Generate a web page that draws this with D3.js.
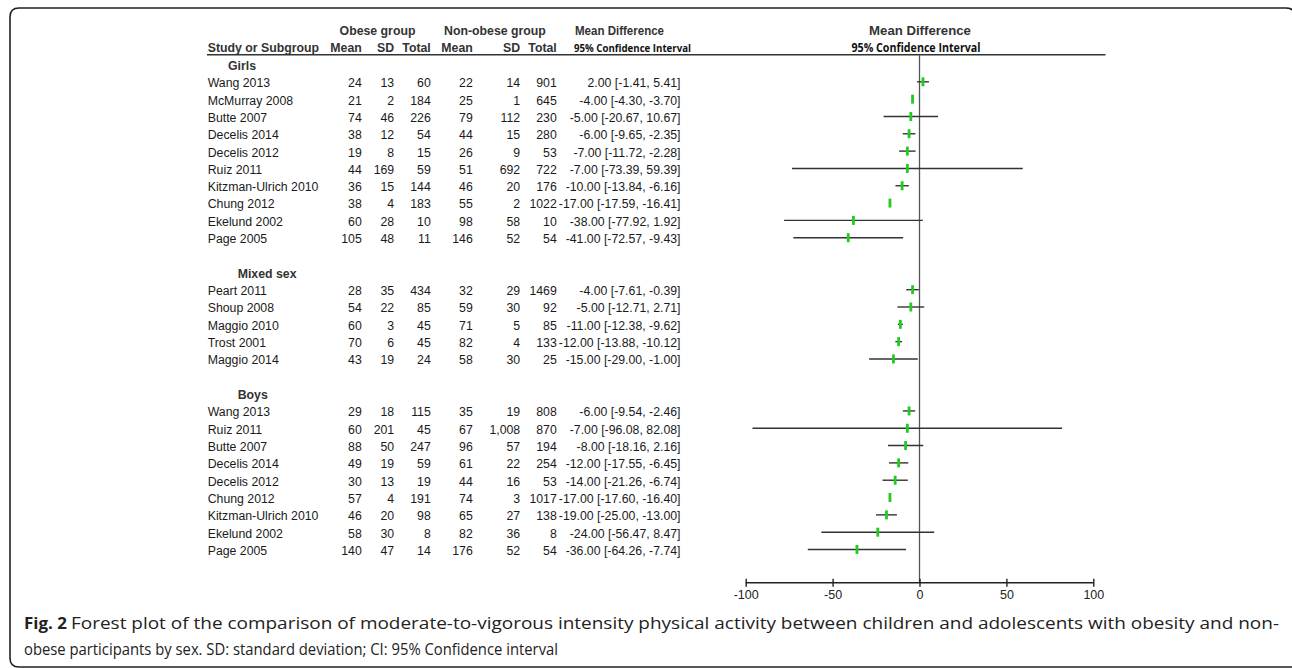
<!DOCTYPE html>
<html>
<head>
<meta charset="utf-8">
<script src="https://cdn.jsdelivr.net/npm/d3@7"></script>
<style>
  html, body { margin: 0; padding: 0; background: #fff; }
  svg { display: block; }
</style>
</head>
<body>
<svg id="chart" width="1292" height="668"></svg>
<script>
// ---------- DATA ----------
const groups = ["Girls", "Mixed sex", "Boys"];

const girlsStudies = ["Wang 2013", "McMurray 2008", "Butte 2007", "Decelis 2014", "Decelis 2012", "Ruiz 2011", "Kitzman-Ulrich 2010", "Chung 2012", "Ekelund 2002", "Page 2005"];
const girlsObeseMean = ["24", "21", "74", "38", "19", "44", "36", "38", "60", "105"];
const girlsObeseSD = ["13", "2", "46", "12", "8", "169", "15", "4", "28", "48"];
const girlsObeseN = ["60", "184", "226", "54", "15", "59", "144", "183", "10", "11"];
const girlsNonMean = ["22", "25", "79", "44", "26", "51", "46", "55", "98", "146"];
const girlsNonSD = ["14", "1", "112", "15", "9", "692", "20", "2", "58", "52"];
const girlsNonN = ["901", "645", "230", "280", "53", "722", "176", "1022", "10", "54"];
const girlsMD = [2.00, -4.00, -5.00, -6.00, -7.00, -7.00, -10.00, -17.00, -38.00, -41.00];
const girlsLo = [-1.41, -4.30, -20.67, -9.65, -11.72, -73.39, -13.84, -17.59, -77.92, -72.57];
const girlsHi = [5.41, -3.70, 10.67, -2.35, -2.28, 59.39, -6.16, -16.41, 1.92, -9.43];

const mixedStudies = ["Peart 2011", "Shoup 2008", "Maggio 2010", "Trost 2001", "Maggio 2014"];
const mixedObeseMean = ["28", "54", "60", "70", "43"];
const mixedObeseSD = ["35", "22", "3", "6", "19"];
const mixedObeseN = ["434", "85", "45", "45", "24"];
const mixedNonMean = ["32", "59", "71", "82", "58"];
const mixedNonSD = ["29", "30", "5", "4", "30"];
const mixedNonN = ["1469", "92", "85", "133", "25"];
const mixedMD = [-4.00, -5.00, -11.00, -12.00, -15.00];
const mixedLo = [-7.61, -12.71, -12.38, -13.88, -29.00];
const mixedHi = [-0.39, 2.71, -9.62, -10.12, -1.00];

const boysStudies = ["Wang 2013", "Ruiz 2011", "Butte 2007", "Decelis 2014", "Decelis 2012", "Chung 2012", "Kitzman-Ulrich 2010", "Ekelund 2002", "Page 2005"];
const boysObeseMean = ["29", "60", "88", "49", "30", "57", "46", "58", "140"];
const boysObeseSD = ["18", "201", "50", "19", "13", "4", "20", "30", "47"];
const boysObeseN = ["115", "45", "247", "59", "19", "191", "98", "8", "14"];
const boysNonMean = ["35", "67", "96", "61", "44", "74", "65", "82", "176"];
const boysNonSD = ["19", "1,008", "57", "22", "16", "3", "27", "36", "52"];
const boysNonN = ["808", "870", "194", "254", "53", "1017", "138", "8", "54"];
const boysMD = [-6.00, -7.00, -8.00, -12.00, -14.00, -17.00, -19.00, -24.00, -36.00];
const boysLo = [-9.54, -96.08, -18.16, -17.55, -21.26, -17.60, -25.00, -56.47, -64.26];
const boysHi = [-2.46, 82.08, 2.16, -6.45, -6.74, -16.40, -13.00, 8.47, -7.74];

const axisTicks = [-100, -50, 0, 50, 100];

const headerTop = ["Obese group", "Non-obese group", "Mean Difference"];
const headerCols = ["Mean", "SD", "Total", "Mean", "SD", "Total"];
const captionBold = "Fig. 2";
const captionLine1 = "Forest plot of the comparison of moderate-to-vigorous intensity physical activity between children and adolescents with obesity and non-";
const captionLine2 = "obese participants by sex. SD: standard deviation; CI: 95% Confidence interval";

// ---------- BUILD ROWS ----------
function buildGroup(name, studies, om, osd, on, nm, nsd, nn, md, lo, hi) {
  const rows = [{ type: "header", label: name }];
  studies.forEach((s, i) => rows.push({
    type: "study", label: s, cells: [om[i], osd[i], on[i], nm[i], nsd[i], nn[i]],
    md: md[i], lo: lo[i], hi: hi[i]
  }));
  return rows;
}
const rows = [];
[
  buildGroup(groups[0], girlsStudies, girlsObeseMean, girlsObeseSD, girlsObeseN, girlsNonMean, girlsNonSD, girlsNonN, girlsMD, girlsLo, girlsHi),
  buildGroup(groups[1], mixedStudies, mixedObeseMean, mixedObeseSD, mixedObeseN, mixedNonMean, mixedNonSD, mixedNonN, mixedMD, mixedLo, mixedHi),
  buildGroup(groups[2], boysStudies, boysObeseMean, boysObeseSD, boysObeseN, boysNonMean, boysNonSD, boysNonN, boysMD, boysLo, boysHi)
].forEach((g, gi) => {
  if (gi > 0) rows.push({ type: "blank" });
  g.forEach(r => rows.push(r));
});
rows.forEach((r, i) => r.idx = i);

// ---------- LAYOUT ----------
const svg = d3.select("#chart");
const fontArial = "Arial, 'Liberation Sans', Helvetica, sans-serif";
const fs = 12.3;
const fmt2 = v => d3.format(".2f")(v).replace("\u2212", "-");

const x = d3.scaleLinear().domain([-100, 100]).range([745.7, 1093.3]);
const y = d3.scaleLinear().domain([0, rows.length - 1]).range([65.5, 550.5]);

const colRight = [361.8, 394.2, 430.8, 472.8, 520.2, 556.8];
const ciRight = 680.5;
const studyX = 207.7;
const headerLineY = 54.8;
const axisY = 582.7;

// frame
svg.append("path")
  .attr("d", "M1300,667 L19,667 Q10,667 10,658 L10,17 Q10,8 19,8 L1286,8 Q1295,8 1295,17 L1295,667")
  .attr("fill", "none").attr("stroke", "#222").attr("stroke-width", 1.6);

// headers
const hdr = svg.append("g").attr("font-family", fontArial).attr("font-weight", "bold")
  .attr("font-size", fs).attr("fill", "#333");
hdr.append("text").attr("x", 377.5).attr("y", 35).attr("text-anchor", "middle").text(headerTop[0]);
hdr.append("text").attr("x", 495).attr("y", 35).attr("text-anchor", "middle").text(headerTop[1]);
hdr.append("text").attr("x", 575).attr("y", 35).attr("textLength", 89).attr("lengthAdjust", "spacingAndGlyphs").text(headerTop[2]);
hdr.append("text").attr("x", 920).attr("y", 35).attr("text-anchor", "middle").attr("font-size", 13.2).text(headerTop[2]);
hdr.append("text").attr("x", studyX).attr("y", 51.8).text("Study or Subgroup");
headerCols.forEach((h, i) => {
  hdr.append("text").attr("x", colRight[i]).attr("y", 51.8).attr("text-anchor", "end").text(h);
});
svg.append("text").attr("x", 574).attr("y", 51.5).attr("font-family", "'Open Sans', sans-serif")
  .attr("font-weight", "bold").attr("font-size", 11.2).attr("fill", "#111")
  .attr("textLength", 117).attr("lengthAdjust", "spacingAndGlyphs").text("95% Confidence Interval");
svg.append("text").attr("x", 851.5).attr("y", 51.5).attr("font-family", "'Open Sans', sans-serif")
  .attr("font-weight", "bold").attr("font-size", 12).attr("fill", "#111")
  .attr("textLength", 129).attr("lengthAdjust", "spacingAndGlyphs").text("95% Confidence Interval");

svg.append("line").attr("x1", 207).attr("x2", 1105.5).attr("y1", headerLineY).attr("y2", headerLineY)
  .attr("stroke", "#333").attr("stroke-width", 1.5);

// table rows
const body = svg.append("g").attr("font-family", fontArial).attr("font-size", fs).attr("fill", "#1a1a1a");
rows.forEach(r => {
  const cy = y(r.idx);
  if (r.type === "header") {
    body.append("text").attr("x", r.label === "Girls" ? 228 : 237.7).attr("y", cy + 4.4)
      .attr("font-weight", "bold").attr("fill", "#333").text(r.label);
  } else if (r.type === "study") {
    body.append("text").attr("x", studyX).attr("y", cy + 4.4).text(r.label);
    r.cells.forEach((c, i) => body.append("text").attr("x", colRight[i]).attr("y", cy + 4.4)
      .attr("text-anchor", "end").text(c));
    body.append("text").attr("x", ciRight).attr("y", cy + 4.4).attr("text-anchor", "end")
      .text(`${fmt2(r.md)} [${fmt2(r.lo)}, ${fmt2(r.hi)}]`);
  }
});

// zero line
svg.append("line").attr("x1", x(0)).attr("x2", x(0)).attr("y1", headerLineY).attr("y2", axisY)
  .attr("stroke", "#555").attr("stroke-width", 1.3);

// forest marks
const studies = rows.filter(r => r.type === "study");
const plot = svg.append("g");
plot.selectAll("line.ci").data(studies).join("line").attr("class", "ci")
  .attr("x1", d => x(d.lo)).attr("x2", d => x(d.hi))
  .attr("y1", d => y(d.idx) - 1).attr("y2", d => y(d.idx) - 1)
  .attr("stroke", "#333").attr("stroke-width", 1.4);
plot.selectAll("rect.pt").data(studies).join("rect").attr("class", "pt")
  .attr("x", d => x(d.md) - 1.4).attr("width", 2.8)
  .attr("y", d => y(d.idx) - 5.5).attr("height", 9)
  .attr("fill", "#1fcc1f");

// axis
const axis = d3.axisBottom(x).tickValues(axisTicks).tickSize(4).tickFormat(d => String(d));
const ag = svg.append("g").attr("transform", `translate(0,${axisY})`).call(axis);
ag.select(".domain").attr("stroke", "#222").attr("stroke-width", 1.4).attr("d", `M${x(-100)},0H${x(100)}`);
ag.selectAll(".tick line").attr("y1", -4).attr("y2", 4).attr("stroke", "#222").attr("stroke-width", 1.4);
ag.selectAll(".tick text").attr("y", 16).attr("dy", null).attr("font-family", fontArial)
  .attr("font-size", 12.5).attr("fill", "#222");

// caption
const cap = svg.append("g").attr("font-family", "'Open Sans', sans-serif").attr("font-size", 16.5).attr("fill", "#222");
cap.append("text").attr("x", 24).attr("y", 629).attr("font-weight", "bold")
  .attr("textLength", 43).attr("lengthAdjust", "spacingAndGlyphs").text(captionBold);
cap.append("text").attr("x", 71).attr("y", 629).attr("textLength", 1208).attr("lengthAdjust", "spacingAndGlyphs").text(captionLine1);
cap.append("text").attr("x", 24).attr("y", 655).attr("textLength", 534).attr("lengthAdjust", "spacingAndGlyphs").text(captionLine2);
</script>
</body>
</html>
